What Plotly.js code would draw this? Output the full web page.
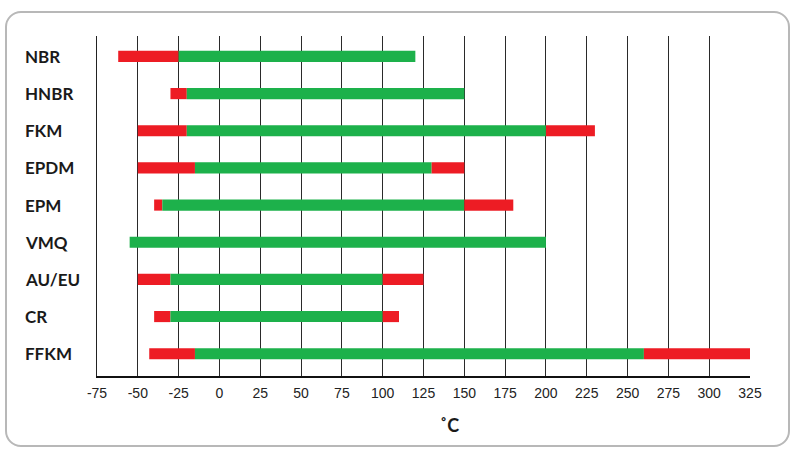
<!DOCTYPE html>
<html>
<head>
<meta charset="utf-8">
<script src="https://cdn.plot.ly/plotly-3.0.1.min.js"></script>
<style>
  html, body { margin: 0; padding: 0; background: #ffffff; }
  #frame {
    position: absolute; left: 5px; top: 11px; width: 781px; height: 432px;
    border: 2px solid #b8b8b8; border-radius: 16px; background: #ffffff;
  }
  #tempChart { position: absolute; left: 0; top: 0; width: 800px; height: 454px; }
</style>
</head>
<body>
<div id="frame"></div>
<div id="tempChart"></div>
<script>
// temperature ranges in °C
var materials = ['NBR', 'HNBR', 'FKM', 'EPDM', 'EPM', 'VMQ', 'AU/EU', 'CR', 'FFKM'];
var shortMin = [-62, -30, -50, -50, -40, null, -50, -40, -43];
var contMin  = [-25, -20, -20, -15, -35, -55, -30, -30, -15];
var contMax  = [120, 150, 200, 130, 150, 200, 100, 100, 260];
var shortMax = [null, null, 230, 150, 180, null, 125, 110, 325];

var tickVals = [-75, -50, -25, 0, 25, 50, 75, 100, 125, 150, 175, 200, 225, 250, 275, 300, 325];
var tickText = ['-75', '-50', '-25', '0', '25', '50', '75', '100', '125', '150', '175', '200', '225', '250', '275', '300', '325'];

var red = '#ED1C24';
var green = '#1DB14B';

var lowLen = [], midLen = [], highLen = [];
for (var i = 0; i < materials.length; i++) {
  lowLen.push(shortMin[i] === null ? null : contMin[i] - shortMin[i]);
  midLen.push(contMax[i] - contMin[i]);
  highLen.push(shortMax[i] === null ? null : shortMax[i] - contMax[i]);
}

var bar = function (base, len, color) {
  return {
    type: 'bar',
    orientation: 'h',
    y: materials,
    x: len,
    base: base,
    width: 0.3,
    marker: { color: color, line: { width: 0 } },
    showlegend: false,
    hoverinfo: 'none'
  };
};

var data = [
  bar(shortMin, lowLen, red),
  bar(contMin, midLen, green),
  bar(contMax, highLen, red)
];

var annotations = materials.map(function (m) {
  return {
    text: m, xref: 'paper', yref: 'y', x: -0.113, y: m,
    xanchor: 'left', yanchor: 'middle', showarrow: false,
    font: { family: 'Lato', size: 17, color: '#1a1a1a', weight: 'bold' }
  };
});
annotations.push({
  text: '˚C', xref: 'paper', yref: 'paper', x: 0.54, y: -0.143,
  xanchor: 'center', yanchor: 'middle', showarrow: false,
  font: { family: 'Lato', size: 18, color: '#1a1a1a', weight: 'bold' }
});

var layout = {
  width: 800,
  height: 454,
  margin: { l: 97, r: 50, t: 36, b: 78 },
  paper_bgcolor: 'rgba(0,0,0,0)',
  plot_bgcolor: 'rgba(0,0,0,0)',
  barmode: 'overlay',
  xaxis: {
    range: [-75, 325],
    tickvals: tickVals,
    ticktext: tickText,
    showgrid: true,
    gridcolor: '#2a2a2a',
    gridwidth: 1,
    zeroline: false,
    showline: true,
    linecolor: '#111111',
    linewidth: 2,
    ticks: '',
    ticklabelstandoff: 3,
    tickfont: { family: 'Liberation Sans', size: 14, color: '#222222' }
  },
  yaxis: {
    type: 'category',
    range: [8.6, -0.55],
    showticklabels: false,
    showgrid: false,
    zeroline: false,
    showline: true,
    linecolor: '#222222',
    linewidth: 1,
    ticks: ''
  },
  annotations: annotations
};

Plotly.newPlot('tempChart', data, layout, { displayModeBar: false, staticPlot: true });
</script>
</body>
</html>
